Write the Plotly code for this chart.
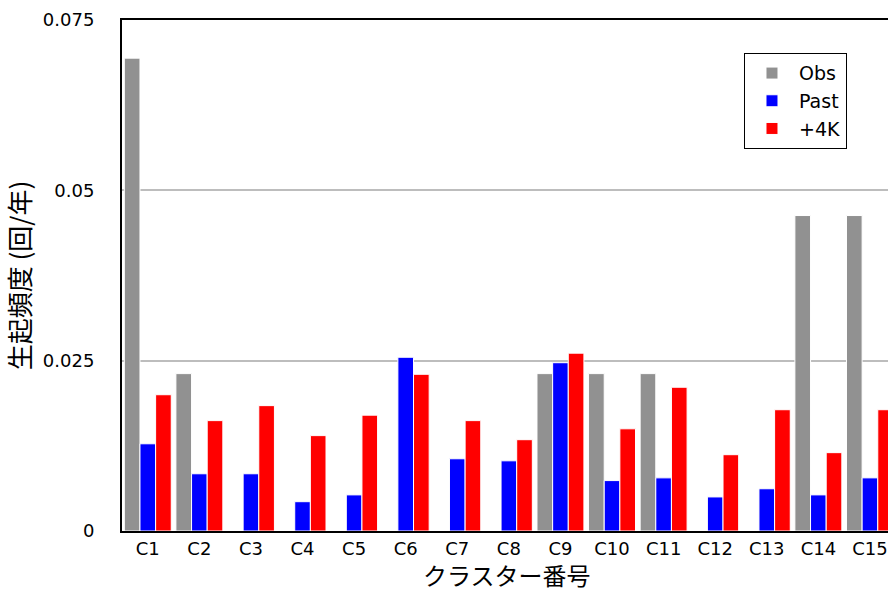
import plotly.graph_objects as go

# Occurrence frequency per cluster (events / year)
clusters = [f"C{i}" for i in range(1, 16)]
obs = [0.0694, 0.0231, 0, 0, 0, 0, 0, 0, 0.0231, 0.0231, 0.0231, 0, 0, 0.0463, 0.0463]
past = [0.0128, 0.0084, 0.0084, 0.0043, 0.0053, 0.0255, 0.0106, 0.0103, 0.0247,
        0.0074, 0.0078, 0.0050, 0.0062, 0.0053, 0.0078]
plus4k = [0.0200, 0.0162, 0.0184, 0.0140, 0.0170, 0.0230, 0.0162, 0.0134, 0.0261,
          0.0150, 0.0211, 0.0112, 0.0178, 0.0115, 0.0178]

y_ticks = [0, 0.025, 0.05, 0.075]
y_ticklabels = ["0", "0.025", "0.05", "0.075"]

FONT = "DejaVu Sans, Noto Sans CJK JP"
JP_FONT = "Noto Sans CJK JP"

fig = go.Figure()
for name, vals, color in [("Obs", obs, "#919191"),
                          ("Past", past, "#0000ff"),
                          ("+4K", plus4k, "#ff0000")]:
    fig.add_trace(go.Bar(
        x=clusters, y=vals, name=name,
        marker=dict(color=color, line=dict(color="white", width=1)),
    ))

# x-axis title placed just under the tick labels
fig.add_annotation(
    text="クラスター番号", xref="paper", yref="paper",
    x=0.503, y=-0.046, xanchor="center", yanchor="top",
    showarrow=False, font=dict(size=24, family=JP_FONT, color="black"),
)

fig.update_layout(
    width=888, height=589,
    margin=dict(l=122, r=0, t=20, b=58),
    paper_bgcolor="white", plot_bgcolor="white",
    barmode="group", bargap=0.09, bargroupgap=0,
    font=dict(family=FONT, color="black"),
    showlegend=True,
    legend=dict(
        x=0.812, y=0.935, xanchor="left", yanchor="top",
        bordercolor="black", borderwidth=1, bgcolor="white",
        font=dict(size=19, family=FONT),
        itemwidth=44, tracegroupgap=0,
    ),
    xaxis=dict(
        range=[-0.5, 14.35], automargin=False,
        showline=True, linecolor="black", linewidth=2, mirror=True,
        ticks="", showgrid=False,
        tickfont=dict(size=18),
    ),
    yaxis=dict(
        range=[0, 0.075], automargin=False,
        tickvals=y_ticks, ticktext=y_ticklabels,
        showline=True, linecolor="black", linewidth=2,
        ticks="", showgrid=True, gridcolor="#bdbdbd", gridwidth=1.5,
        zeroline=False,
        tickfont=dict(size=18),
        ticklabelstandoff=22,
        title=dict(text="生起頻度 (回/年)", font=dict(size=26, family=JP_FONT), standoff=8),
    ),
)

fig.write_html("out.html")
